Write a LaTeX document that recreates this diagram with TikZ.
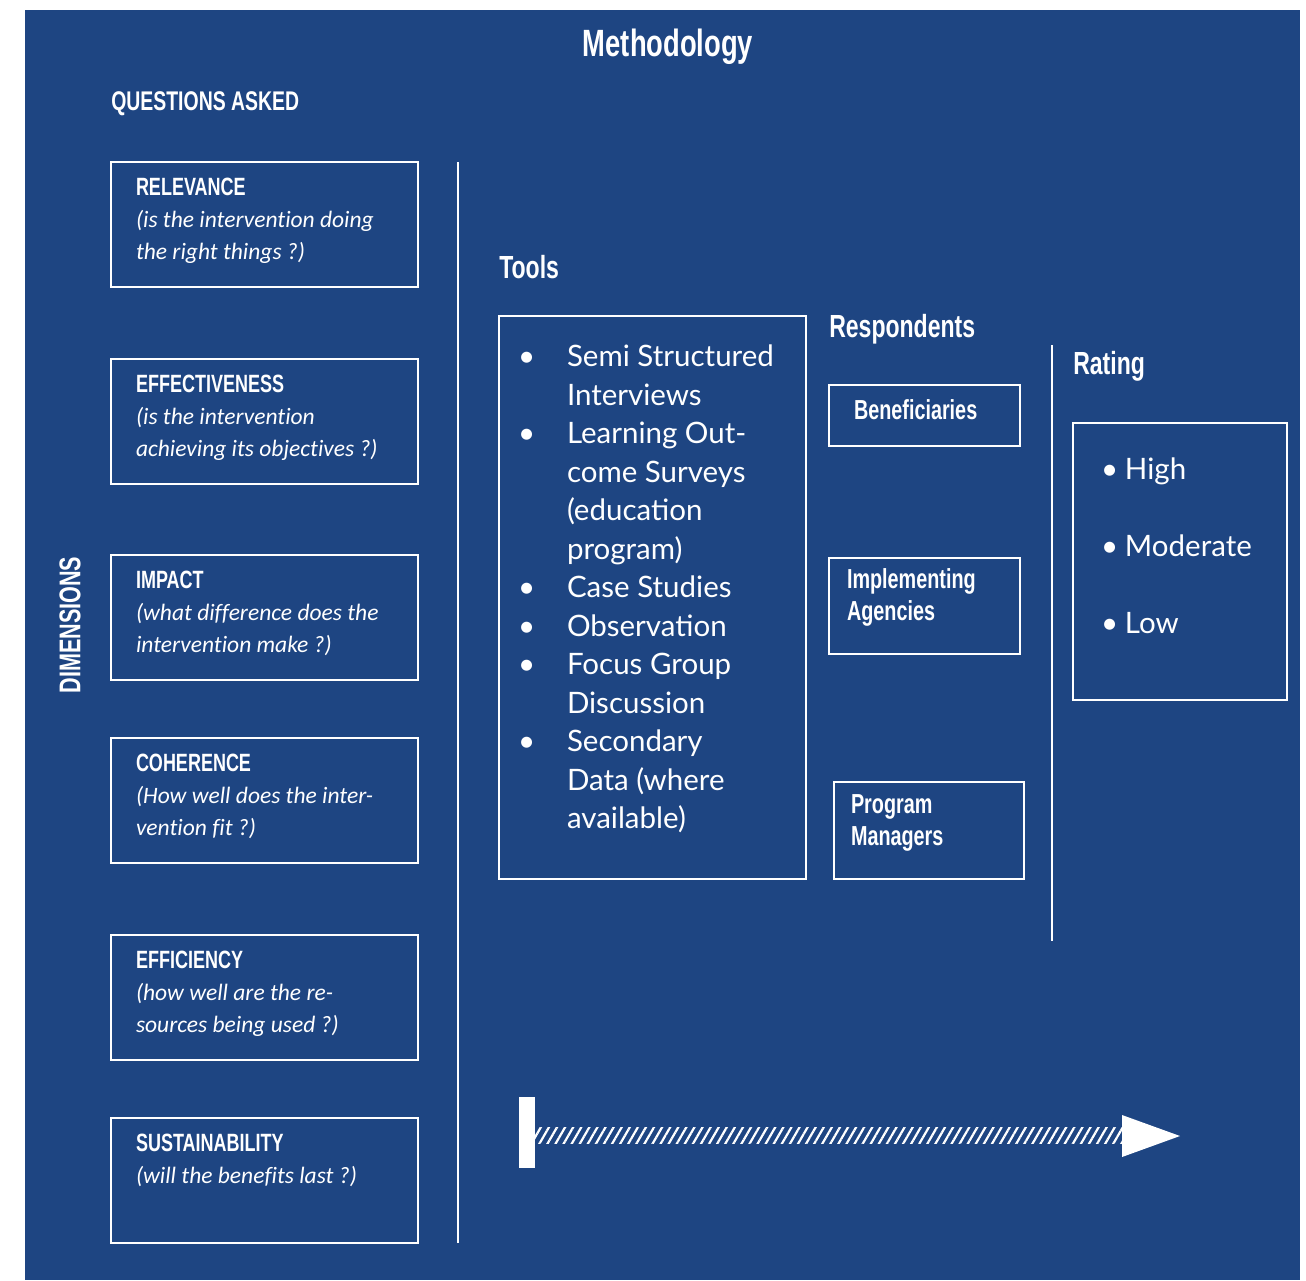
\documentclass[tikz,border=0pt]{standalone}
\usepackage{fontspec}
\setmainfont{Lato}
\newfontfamily\headfont[FakeStretch=0.72]{Liberation Sans}
\newfontfamily\askfont[Ligatures=NoCommon]{Carlito}
\usetikzlibrary{positioning,patterns.meta}
\definecolor{methblue}{RGB}{30,69,130}
\newcommand\tb{\makebox[49pt][l]{\textbullet}}
\newcommand\tn{\hspace*{49pt}}
\newcommand\rb{\makebox[24pt][l]{\textbullet}}
\newcommand\dimname[1]{{\headfont\bfseries\upshape\fontsize{25}{32}\selectfont #1}}

\begin{document}
\begin{tikzpicture}[x=1pt, y=-1pt, line width=2.5pt,
  heading/.style={text=white, inner sep=0pt, font=\headfont\bfseries\fontsize{32}{36}\selectfont},
  dimbox/.style={draw=white, minimum width=307pt, minimum height=125pt, inner sep=0pt},
  dimtext/.style={anchor=north west, align=left, inner sep=0pt, text=white, font=\askfont\itshape\fontsize{23.5}{32}\selectfont},
  listbox/.style={draw=white, inner sep=0pt},
  listtext/.style={anchor=north west, align=left, inner sep=0pt, text=white, font=\fontsize{29.5}{38.5}\selectfont},
  resptext/.style={anchor=west, align=left, inner sep=0pt, text=white, font=\headfont\bfseries\fontsize{27.5}{32}\selectfont}]

  \useasboundingbox (0,0) rectangle (1306,1280);
  \fill[methblue] (25,10) rectangle (1300,1280);

  % headings
  \node[heading, font=\headfont\bfseries\fontsize{38}{40}\selectfont] (title) at (668,47) {Methodology};
  \node[heading, anchor=west, font=\headfont\bfseries\fontsize{27}{30}\selectfont] (asked) at (110,104) {QUESTIONS ASKED};
  \node[heading, rotate=90, font=\headfont\bfseries\fontsize{30}{32}\selectfont] (dims) at (70,625) {DIMENSIONS};
  \node[heading, anchor=west] (tools) at (498,267) {Tools};
  \node[heading, anchor=west] (resp) at (828,329) {Respondents};
  \node[heading, anchor=west] (rating) at (1072,366) {Rating};

  % dimensions
  \node[dimbox] (relevance) at (264.5,224.5) {};
  \node[dimbox] (effect) at (264.5,421.5) {};
  \node[dimbox] (impact) at (264.5,617.5) {};
  \node[dimbox] (coherence) at (264.5,800.5) {};
  \node[dimbox] (effic) at (264.5,997.5) {};
  \node[dimbox] (sustain) at (264.5,1180.5) {};

  \node[dimtext] at ([xshift=25pt,yshift=-16pt]relevance.north west)
    {\dimname{RELEVANCE}\\(is the intervention doing\\the right things ?)};
  \node[dimtext] at ([xshift=25pt,yshift=-16pt]effect.north west)
    {\dimname{EFFECTIVENESS}\\(is the intervention\\achieving its objectives ?)};
  \node[dimtext] at ([xshift=25pt,yshift=-16pt]impact.north west)
    {\dimname{IMPACT}\\(what difference does the\\intervention make ?)};
  \node[dimtext] at ([xshift=25pt,yshift=-16pt]coherence.north west)
    {\dimname{COHERENCE}\\(How well does the inter-\\vention fit ?)};
  \node[dimtext] at ([xshift=25pt,yshift=-16pt]effic.north west)
    {\dimname{EFFICIENCY}\\(how well are the re-\\sources being used ?)};
  \node[dimtext] at ([xshift=25pt,yshift=-16pt]sustain.north west)
    {\dimname{SUSTAINABILITY}\\(will the benefits last ?)};

  \draw[white] (458,162) -- (458,1243);
  \draw[white] (1052,345) -- (1052,941);

  % tools
  \node[listbox, minimum width=307pt, minimum height=563pt] (toolbox) at (652.5,597.5) {};
  \node[listtext] (toollist) at ([xshift=19pt,yshift=-29pt]toolbox.north west)
    {\tb Semi Structured\\ \tn Interviews\\ \tb Learning Out-\\ \tn come Surveys\\ \tn (education\\ \tn program)\\
     \tb Case Studies\\ \tb Observation\\ \tb Focus Group\\ \tn Discussion\\ \tb Secondary\\ \tn Data (where\\ \tn available)};

  % respondents
  \node[listbox, minimum width=191pt, minimum height=61pt] (benef) at (924.5,415.5) {};
  \node[listbox, minimum width=191pt, minimum height=96pt] (agencies) at (924.5,606) {};
  \node[listbox, minimum width=190pt, minimum height=97pt] (managers) at (929,830.5) {};
  \node[resptext] at ([xshift=25pt,yshift=6pt]benef.west) {Beneficiaries};
  \node[resptext] at ([xshift=18pt,yshift=9pt]agencies.west) {Implementing\\Agencies};
  \node[resptext] at ([xshift=17pt,yshift=8pt]managers.west) {Program\\Managers};

  % rating
  \node[listbox, minimum width=214pt, minimum height=277pt] (ratebox) at (1180,561.5) {};
  \node[listtext, font=\fontsize{29.5}{77}\selectfont] (ratelist) at ([xshift=28pt,yshift=-35pt]ratebox.north west)
    {\rb High\\ \rb Moderate\\ \rb Low};

  % scale arrow
  \fill[white] (519,1097) rectangle (535,1168);
  \fill[pattern={Lines[angle=60,distance=7pt,line width=2.2pt]}, pattern color=white] (535,1127) rectangle (1123,1143);
  \fill[white] (1122,1115) -- (1180,1136) -- (1122,1157) -- cycle;

\end{tikzpicture}
\end{document}
